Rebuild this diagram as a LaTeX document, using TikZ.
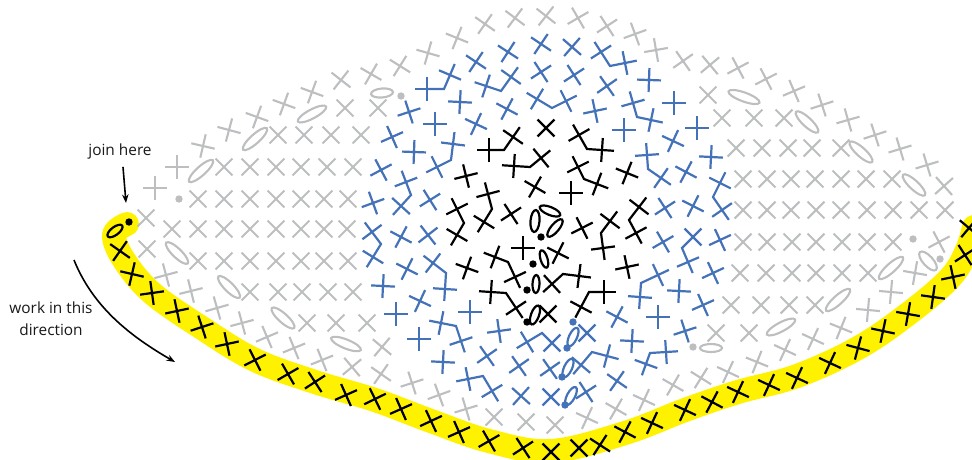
\documentclass[tikz,border=0pt]{standalone}
\usepackage{fontspec}
\setmainfont{Open Sans}
\usepackage{tikz}
\usetikzlibrary{arrows.meta, calc}

\definecolor{bandyellow}{HTML}{FFF200}
\definecolor{chartgrey}{HTML}{BCBEC0}
\definecolor{chartblue}{HTML}{4472B8}

% x/y/rotation
\newcommand{\stitchset}[2]{%
  \foreach \x/\y/\r in {#2}
    \draw[#1, shift={(\x,\y)}, rotate=\r] (-12,0) -- (12,0) (0,-12) -- (0,12);}
% x1/y1/x2/y2/xkink/ykink
\newcommand{\joinset}[2]{%
  \foreach \xa/\ya/\xb/\yb/\xk/\yk in {#2} {
    \pgfmathsetmacro\ra{atan2(\ya-\yk,\xk-\xa)}
    \pgfmathsetmacro\rb{atan2(\yb-\yk,\xk-\xb)}
    \draw[#1, shift={(\xa,\ya)}, rotate=\ra] (-12,0) -- (0,0) (0,-12) -- (0,12);
    \draw[#1, shift={(\xb,\yb)}, rotate=\rb] (-12,0) -- (0,0) (0,-12) -- (0,12);
    \draw[#1] (\xa,\ya) -- (\xk,\yk) -- (\xb,\yb);
  }}
% x/y/rotation/long radius/short radius
\newcommand{\loopset}[2]{%
  \foreach \x/\y/\r/\a/\b in {#2}
    \draw[#1, shift={(\x,\y)}, rotate=\r] (0,0) ellipse [x radius=\a, y radius=\b];}
\newcommand{\dotset}[2]{%
  \foreach \x/\y in {#2}
    \fill[#1] (\x,\y) circle [radius=3.7];}

\begin{document}
\begin{tikzpicture}[
  x=1pt, y=-1pt,
  greyst/.style={draw=chartgrey, line width=2.1pt},
  bluest/.style={draw=chartblue, line width=2.2pt},
  blackst/.style={draw=black, line width=2.2pt},
  note/.style={font=\fontsize{15.4}{22}\selectfont, align=center, text=black!90, inner sep=1pt},
  >={Stealth[length=3mm]}
]
  \useasboundingbox (0,0) rectangle (972,459);

  % Yellow round
  \draw[bandyellow, line width=24pt, line cap=round, line join=round]
    plot[smooth, tension=0.6] coordinates {
      (127,224) (114,235) (124,260) (152,293) (202,328) (255,360) (315,382)
      (375,400) (431,421) (489,441) (551,451) (625,433) (685,410) (738,392)
      (797,376) (858,348) (908,314) (950,278) (967,250) (974,227)};

  % Grey rows
  \foreach \yy/\xs in {
    95/{708},
    108/{345,378},
    118/{722,754,784},
    135/{278,304,331,361},
    148/{736,762,788,812,841},
    167/{224,250,276,301,327,353},
    179/{743,767,791,815,841,866,892},
    199/{198,224,250,276,301,324,348},
    210/{743,767,791,816,841,867,893,919,945},
    229/{172,198,224,250,276,301,324,347},
    242/{743,767,792,816,842,867,893},
    261/{198,224,250,276,301,324,348},
    273/{740,766,792,816,842,868},
    292/{250,278,302,328,353},
    305/{731,761,789,815},
    323/{307,336,367},
    333/{716,749}}
    \foreach \x in \xs
      \draw[greyst, shift={(\x,\yy)}, rotate=45] (-12,0) -- (12,0) (0,-12) -- (0,12);

  % Grey outer edge
  \stitchset{greyst}{155/188/0, 177/167/0, 203/146/-13, 229/130/-15, 257/117/-20,
    284/104/-20, 312/92/-20, 341/80/-38, 371/74/-30, 400/66/-32, 428/53/-16,
    457/38/-22, 485/24/-35, 515/18/-37, 546/16/-38, 578/18/30, 607/26/33,
    635/34/20, 656/50/10, 683/61/35, 710/65/40, 738/68/28, 766/79/27, 794/91/23,
    822/105/18, 848/120/16, 875/135/18, 900/149/17, 927/165/17, 944/186/42,
    939/242/28, 915/273/-10, 891/292/-5, 868/310/-5, 841/328/-22, 813/339/-25,
    785/350/-25, 757/362/-22, 728/372/-25, 701/378/-32, 673/385/-30, 644/400/-25,
    616/409/-30, 587/418/-25, 555/425/-45, 526/422/-45, 494/417/-45, 466/409/17,
    439/395/20, 412/383/18, 381/374/-35, 382/347/-40, 352/367/40, 322/360/22,
    294/348/22, 267/337/23, 242/323/15, 217/308/16, 191/291/14, 166/275/15,
    146/218/45, 147/249/45}
  \loopset{greyst}{201/171/42/16/4.5, 255/139/42/16/4.5, 312/114/28/16/4.5,
    382/93/5/11/4.5, 177/253/-44/15/4.5, 229/287/-45/15/4.5, 283/318/-42/15/4.5,
    346/344/-22/16/4.5, 744/97/-20/16.5/4.5, 807/122/-43/15/4.5, 861/152/-42/15/4.5,
    914/185/-43/15/4.5, 928/261/-48/12/5, 891/268/42/16/4.5, 838/300/42/16/4.5,
    781/327/28/16/4.5, 711/348/0/11/4}
  \dotset{chartgrey}{179/199, 401/96, 913/239, 940/259, 693/347}

  % Blue round
  \stitchset{bluest}{392/137/24, 409/112/18, 476/62/-34, 508/52/-33, 541/44/-34,
    572/47/-41, 435/124/0, 460/102/-3, 476/124/-25, 507/109/-28, 541/72/33,
    574/75/33, 607/86/35, 595/111/12, 624/130/0, 649/80/-2, 674/103/0, 697/128/0,
    711/157/-3, 673/141/-25, 686/172/-28, 693/206/-27, 665/208/33, 663/242/30,
    720/240/25, 713/273/25, 679/291/-3, 703/305/24, 658/317/0, 685/331/18,
    414/152/-2, 381/170/28, 430/200/32, 373/203/20, 401/237/-28, 428/235/38,
    407/269/-27, 383/286/-3, 420/301/-25, 396/314/0, 470/312/0, 419/339/0,
    499/331/8, 487/356/35, 443/362/-3, 519/366/35, 521/396/-42, 550/369/35,
    551/397/-45, 587/333/-45, 586/392/33, 617/317/-28, 632/341/-3, 617/381/-35}
  \joinset{bluest}{427/89/450/75/444/89, 453/144/437/167/451/160, 486/86/511/77/501/91,
    601/52/625/63/610/66, 537/99/566/101/552/108, 633/103/651/120/637/117,
    647/155/661/178/648/169, 720/183/722/210/713/197, 693/237/688/262/682/248,
    640/297/658/275/641/283, 666/352/646/364/650/353, 406/182/401/206/411/195,
    372/232/373/257/381/244, 433/263/445/289/446/273, 441/323/461/341/456/326,
    527/342/552/343/542/333, 468/379/492/391/483/376, 581/365/607/356/592/352}
  \loopset{bluest}{573/337/65/10/4, 568/368/65/10/4, 571/396/62/10/4}
  \dotset{chartblue}{573/322, 567/348, 562/377, 565/405}

  % Black centre
  \stitchset{blackst}{546/128/-45, 627/173/-22, 466/176/14, 535/187/-30, 571/193/0,
    511/214/33, 582/228/27, 523/248/0, 558/253/-27, 467/268/-20, 627/267/12,
    548/314/-45}
  \joinset{blackst}{489/150/513/137/504/150, 579/135/602/150/587/149,
    514/166/541/158/530/167, 578/167/597/184/584/179, 488/194/484/222/492/209,
    457/209/457/235/464/223, 610/221/603/248/601/233, 639/207/636/233/629/220,
    495/257/515/277/508/262, 552/284/579/276/563/274, 491/292/516/308/506/293,
    604/292/581/307/589/292}
  \loopset{blackst}{535/221/85/11/4.5, 550/211/-22/11/4, 555/228/50/11/4,
    544/259/-73/9/3.5, 536/284/88/9/3.5, 535/315/70/10/4, 115/231/37/9/4}
  \dotset{black}{541/237, 533/264, 527/290, 527/322, 129/222}

  % Stitches on the yellow round
  \stitchset{blackst}{120/251/-35, 132/274/-13, 152/293/8, 177/311/12, 202/327/18,
    227/344/12, 255/360/27, 288/374/30, 315/382/33, 346/395/24, 375/399/26,
    401/409/24, 431/421/25, 459/432/24, 489/441/30, 523/448/33, 551/452/45,
    579/448/45, 600/445/-33, 625/432/-28, 652/423/-25, 685/410/-25, 712/402/-28,
    738/392/-25, 769/385/-25, 797/378/-25, 830/363/-25, 858/348/-15, 883/331/-12,
    908/314/-10, 933/297/-8, 953/277/12, 965/255/33, 969/228/-40}

  % Labels
  \node[note] (joinlbl) at (120,151) {join here};
  \coordinate (joinend) at (126,203);
  \draw[->, line width=1.6pt] ($(joinlbl.south)+(3,7)$) -- (joinend);

  \node[note] (dirlbl) at (51,319) {work in this\\direction};
  \coordinate (dirstart) at (74,260);
  \coordinate (dirend) at (175,362);
  \draw[->, line width=1.6pt] (dirstart) .. controls (93,307) and (130,336) .. (dirend);
\end{tikzpicture}
\end{document}
